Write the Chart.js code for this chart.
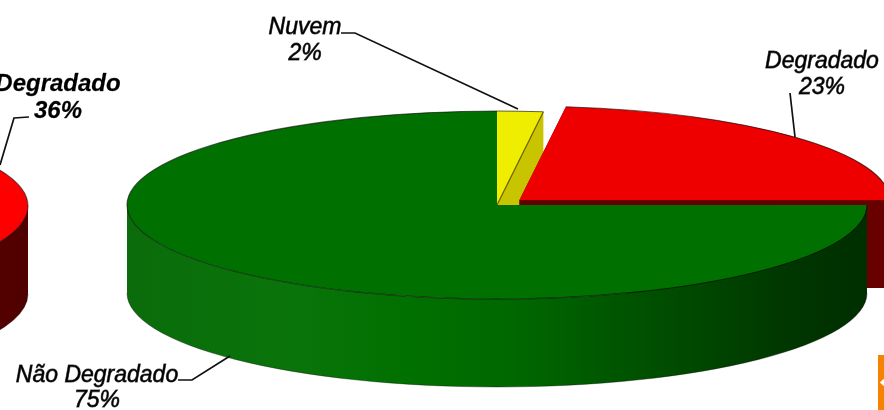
<!DOCTYPE html>
<html>
<head>
<meta charset="utf-8">
<script src="https://cdn.jsdelivr.net/npm/chart.js@4/dist/chart.umd.js"></script>
<style>
html,body{margin:0;padding:0;background:#fff;width:884px;height:410px;overflow:hidden}
canvas{position:absolute;top:0}
#main{left:0}
#second{left:-784px}
#badge{position:absolute;left:878px;top:355px;width:6px;height:55px;background:#f78200}
#badge i{position:absolute;left:3px;top:25px;width:5px;height:5px;background:#fff;display:block;transform:rotate(45deg)}
</style>
</head>
<body>
<canvas id="second" width="884" height="410"></canvas>
<canvas id="main" width="884" height="410"></canvas>
<div id="badge"><i></i></div>
<script>
// ---- data ----
const mainCategories = ['Nuvem', 'Degradado', 'Não Degradado'];
const mainValues = [2, 23, 75];
const mainTopColors = ['#f0ee00', '#ee0000', '#007000'];
const secondCategories = ['Degradado', 'Não Degradado'];
const secondValues = [36, 64];
const secondTopColors = ['#fe0000', '#007000'];

// ---- 3D look ----
const SQUASH = 0.254, DEPTH = 88, RADIUS = 370;

const greenStops = [[0,'#0a6c0a'],[0.22,'#0a740a'],[0.38,'#007000'],[0.52,'#006800'],[0.72,'#004e00'],[0.9,'#003600'],[1,'#002e00']];
const redMainStops = [[0,'#5c0000'],[1,'#680000']];
const redSecondStops = [[0,'#700000'],[0.8,'#620000'],[1,'#500000']];
const yellowStops = [[0,'#c8c400'],[1,'#c8c400']];
const stopsByColor = {'#007000': greenStops, '#ee0000': redMainStops, '#fe0000': redSecondStops, '#f0ee00': yellowStops};

function shift(a){ return a.options.offset / 4; } // Chart.js draws offset/4
function arcCentre(a){
  const mid = (a.startAngle + a.endAngle) / 2, o = shift(a);
  return {x: a.x + Math.cos(mid) * o, y: a.y + Math.sin(mid) * o};
}
function gradient(ctx, c, r, stops){
  const g = ctx.createLinearGradient(c.x - r, 0, c.x + r, 0);
  stops.forEach(s => g.addColorStop(s[0], s[1]));
  return g;
}
function makePlugin(cy, opts){
  const toY = y => cy + (y - cy) * SQUASH;
  return {
    id: 'pie3d',
    beforeDatasetsDraw(chart){
      const ctx = chart.ctx, arcs = chart.getDatasetMeta(0).data;
      arcs.forEach((a, i) => {
        const c = arcCentre(a), sy = toY(c.y), r = a.outerRadius, ry = r * SQUASH;
        const fill = gradient(ctx, c, r, stopsByColor[chart.data.datasets[0].backgroundColor[i]]);
        if (opts.cutFaces) {
          [a.startAngle, a.endAngle].forEach(t => {
            const ex = c.x + Math.cos(t) * r, ey = sy + Math.sin(t) * ry;
            ctx.beginPath();
            ctx.moveTo(c.x, sy); ctx.lineTo(ex, ey);
            ctx.lineTo(ex, ey + DEPTH); ctx.lineTo(c.x, sy + DEPTH); ctx.closePath();
            ctx.fillStyle = fill; ctx.fill();
          });
        }
        const ranges = [[a.startAngle, a.endAngle], [a.startAngle - 2*Math.PI, a.endAngle - 2*Math.PI], [a.startAngle + 2*Math.PI, a.endAngle + 2*Math.PI]];
        ranges.forEach(rg => {
          const s = Math.max(rg[0], 0), e = Math.min(rg[1], Math.PI);
          if (e <= s) return;
          ctx.beginPath();
          ctx.ellipse(c.x, sy, r, ry, 0, s, e);
          ctx.ellipse(c.x, sy + DEPTH, r, ry, 0, e, s, true);
          ctx.closePath();
          ctx.fillStyle = fill; ctx.fill();
          ctx.beginPath();
          ctx.ellipse(c.x, sy + DEPTH, r, ry, 0, s, e);
          ctx.strokeStyle = 'rgba(0,0,0,0.35)'; ctx.lineWidth = 1; ctx.stroke();
        });
      });
      ctx.save();
      ctx.translate(0, cy); ctx.scale(1, SQUASH); ctx.translate(0, -cy);
    },
    afterDatasetsDraw(chart){
      const ctx = chart.ctx, arcs = chart.getDatasetMeta(0).data;
      ctx.restore();
      arcs.forEach(a => {
        const c = arcCentre(a), sy = toY(c.y), r = a.outerRadius, ry = r * SQUASH;
        ctx.beginPath();
        ctx.ellipse(c.x, sy, r, ry, 0, a.startAngle, a.endAngle);
        ctx.strokeStyle = 'rgba(0,0,0,0.6)'; ctx.lineWidth = 1.1; ctx.stroke();
      });
      if (opts.cutFaces) {
        const a = arcs[0], c = arcCentre(a), sy = toY(c.y), r = a.outerRadius, ry = r * SQUASH;
        ctx.beginPath();
        ctx.moveTo(c.x, sy);
        ctx.lineTo(c.x + Math.cos(a.endAngle) * r, sy + Math.sin(a.endAngle) * ry);
        ctx.strokeStyle = 'rgba(70,60,0,0.8)'; ctx.lineWidth = 1.2; ctx.stroke();
      }
    }
  };
}

function leader(ctx, pts){
  ctx.beginPath();
  pts.forEach((p, i) => i ? ctx.lineTo(p[0], p[1]) : ctx.moveTo(p[0], p[1]));
  ctx.strokeStyle = '#111'; ctx.lineWidth = 1.7; ctx.stroke();
}
function label(ctx, lines, x, y0, y1, font, sw){
  ctx.save();
  ctx.font = font; ctx.textAlign = 'center'; ctx.textBaseline = 'alphabetic';
  ctx.fillStyle = '#000'; ctx.strokeStyle = 'rgba(0,0,0,0.7)'; ctx.lineWidth = sw;
  ctx.fillText(lines[0], x, y0); ctx.strokeText(lines[0], x, y0);
  ctx.fillText(lines[1], x, y1); ctx.strokeText(lines[1], x, y1);
  ctx.restore();
}
const labelPlugin = {
  id: 'labels',
  afterDraw(chart){
    const ctx = chart.ctx;
    const thin = 'italic 23px "Liberation Sans"', bold = 'italic bold 24px "Liberation Sans"';
    leader(ctx, [[341,33],[355,33],[518,109]]);
    leader(ctx, [[790,93],[795,137]]);
    leader(ctx, [[178,380],[192,380],[230,356]]);
    leader(ctx, [[29,117],[14,118],[0,165]]);
    label(ctx, [mainCategories[0], mainValues[0] + '%'], 305, 34, 60, thin, 0.8);
    label(ctx, [mainCategories[1], mainValues[1] + '%'], 822, 68, 94, thin, 0.8);
    label(ctx, [mainCategories[2], mainValues[2] + '%'], 97, 382, 407, thin, 0.8);
    label(ctx, [secondCategories[0], secondValues[0] + '%'], 58, 91, 118, bold, 0.3);
  }
};

function baseOptions(rotation, padding){
  return {
    responsive: false, animation: false, rotation: rotation, radius: RADIUS,
    layout: {padding: padding},
    plugins: {legend: {display: false}, tooltip: {enabled: false}}
  };
}

new Chart(document.getElementById('second'), {
  type: 'pie',
  data: {labels: secondCategories, datasets: [{
    data: secondValues, backgroundColor: secondTopColors, borderWidth: 0, clip: false
  }]},
  options: baseOptions(25.2, {top: 2, bottom: 0}),
  plugins: [makePlugin(206, {cutFaces: false})]
});

new Chart(document.getElementById('main'), {
  type: 'pie',
  data: {labels: mainCategories, datasets: [{
    data: mainValues, backgroundColor: mainTopColors, borderWidth: 0, clip: false,
    offset: [0, 120, 0]
  }]},
  options: baseOptions(0, {left: 110}),
  plugins: [makePlugin(205, {cutFaces: true}), labelPlugin]
});
</script>
</body>
</html>
